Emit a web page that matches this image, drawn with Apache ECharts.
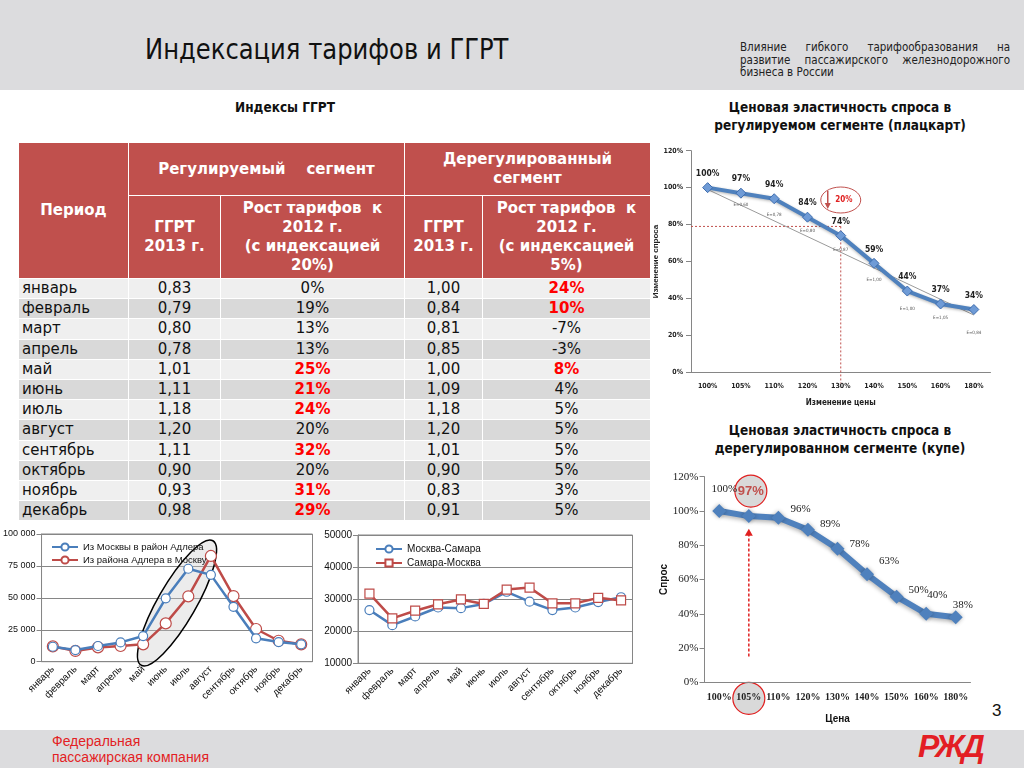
<!DOCTYPE html>
<html><head><meta charset="utf-8">
<script src="https://cdn.jsdelivr.net/npm/echarts@6/dist/echarts.min.js"></script>
<style>
body{margin:0;width:1024px;height:768px;position:relative;overflow:hidden;background:#fff;font-family:'DejaVu Sans',sans-serif;}
#topbar{position:absolute;left:0;top:0;width:1024px;height:90px;background:#dcdcde;}
#title{position:absolute;left:145px;top:32px;font:29px 'DejaVu Sans Condensed',sans-serif;color:#111;white-space:nowrap;transform-origin:0 0;transform:scaleX(0.93);}
#sub{position:absolute;left:740px;top:41px;width:270px;font:11.5px 'DejaVu Sans Condensed',sans-serif;text-align:justify;text-align-last:left;line-height:12.5px;color:#222;}
.hd{position:absolute;font:bold 13.5px 'DejaVu Sans Condensed','DejaVu Sans',sans-serif;color:#111;text-align:center;line-height:18px;}
#botbar{position:absolute;left:0;top:730px;width:1024px;height:38px;background:#dcdcde;}
#fpk{position:absolute;left:52px;top:733px;font:14px 'Liberation Sans',sans-serif;color:#e31e24;line-height:16px;}
#logo{position:absolute;left:918px;top:728px;font:italic bold 32px 'Liberation Sans',sans-serif;color:#e31e24;letter-spacing:-3px;}
#pg{position:absolute;left:992px;top:701px;font:17px 'Liberation Sans',sans-serif;color:#111;}
#tbl{position:absolute;left:18px;top:142px;width:632px;border-collapse:collapse;table-layout:fixed;}
#tbl th{background:#c0504d;color:#fff;border:1px solid #fff;font:bold 15px 'DejaVu Sans',sans-serif;line-height:19px;padding:0;text-align:center;}
#tbl td{border:1px solid #fff;font:15px 'DejaVu Sans',sans-serif;color:#111;padding:0;text-align:center;height:19.2px;line-height:19px;}
#tbl td.p{text-align:left;padding-left:3px;}
#tbl tr.l td{background:#efefef;}
#tbl tr.d td{background:#d9d9d9;}
#tbl td.hi{color:#f00;font-weight:bold;}
#chart{position:absolute;left:0;top:0;width:1024px;height:768px;}
</style></head>
<body>
<div id="topbar"></div>
<div id="title">Индексация тарифов и ГГРТ</div>
<div id="sub">Влияние гибкого тарифообразования на развитие пассажирского железнодорожного бизнеса в России</div>
<div class="hd" style="left:185px;top:98px;width:200px;">Индексы ГГРТ</div>
<div class="hd" style="left:680px;top:98px;width:320px;">Ценовая эластичность спроса в<br>регулируемом сегменте (плацкарт)</div>
<div class="hd" style="left:680px;top:421px;width:320px;">Ценовая эластичность спроса в<br>дерегулированном сегменте (купе)</div>
<table id="tbl">
<colgroup><col style="width:110px"><col style="width:92px"><col style="width:184px"><col style="width:78px"><col style="width:168px"></colgroup>
<thead>
<tr style="height:53px"><th rowspan="2">Период</th><th colspan="2">Регулируемый&nbsp;&nbsp;&nbsp; сегмент</th><th colspan="2">Дерегулированный<br>сегмент</th></tr>
<tr style="height:83px"><th>ГГРТ<br>2013 г.</th><th>Рост тарифов&nbsp; к<br>2012 г.<br>(с индексацией<br>20%)</th><th>ГГРТ<br>2013 г.</th><th>Рост тарифов&nbsp; к<br>2012 г.<br>(с индексацией<br>5%)</th></tr>
</thead><tbody id="tb"></tbody></table>
<div id="botbar"></div>
<div id="fpk">Федеральная<br>пассажирская компания</div>
<div id="logo">РЖД</div>
<div id="pg">3</div>
<div id="chart"></div>
<script>
// ---------- data ----------
const months = ['январь','февраль','март','апрель','май','июнь','июль','август','сентябрь','октябрь','ноябрь','декабрь'];
const ggrtReg = [0.83,0.79,0.80,0.78,1.01,1.11,1.18,1.20,1.11,0.90,0.93,0.98];
const growthReg = [0,19,13,13,25,21,24,20,32,20,31,29];
const hiReg = [0,0,0,0,1,1,1,0,1,0,1,1];
const ggrtDereg = [1.00,0.84,0.81,0.85,1.00,1.09,1.18,1.20,1.01,0.90,0.83,0.91];
const growthDereg = [24,10,-7,-3,8,4,5,5,5,5,3,5];
const hiDereg = [1,1,0,0,1,0,0,0,0,0,0,0];

const adlerFromMoscow = [11700,9100,12300,15100,20100,49600,72800,68000,43000,18300,15400,13600];
const adlerToMoscow = [12000,8400,11200,12300,13600,30000,51200,82800,51400,25600,16400,13600];
const samaraFromMoscow = [26600,21900,24600,27400,27200,28500,32300,29200,26600,27400,29100,30600];
const samaraToMoscow = [31700,24000,26400,28400,29900,28500,33000,33600,28700,28700,30400,29600];

const priceCatsReg = ['100%','105%','110%','120%','130%','140%','150%','160%','180%'];
const demandReg = [100,97,94,84,74,59,44,37,34];
const trendReg = [99,null,null,null,null,null,null,null,31];
const elastLabels = ['E=0,60','E=0,78','E=0,80','E=0,87','E=1,00','E=1,00','E=1,05','E=0,84'];
const elastPos = [[0.9,90.6],[1.95,85.4],[2.8,76.4],[3.9,66.4],[5.0,50],[5.9,34.3],[6.8,29.4],[7.9,21.6]];
const priceCatsDereg = ['100%','105%','110%','120%','130%','140%','150%','160%','180%'];
const demandDereg = [100,97,96,89,78,63,50,40,38];

// ---------- table ----------
const fmt = v => v.toFixed(2).replace('.', ',');
let html = '';
months.forEach((m,i)=>{
  html += '<tr class="'+(i%2?'d':'l')+'"><td class="p">'+m+'</td><td>'+fmt(ggrtReg[i])+'</td><td'+(hiReg[i]?' class="hi"':'')+'>'+growthReg[i]+'%</td><td>'+fmt(ggrtDereg[i])+'</td><td'+(hiDereg[i]?' class="hi"':'')+'>'+growthDereg[i]+'%</td></tr>';
});
document.getElementById('tb').innerHTML = html;

// ---------- charts ----------
const chart = echarts.init(document.getElementById('chart'), null, {renderer:'canvas'});
const G = [
  {left:39, top:534, width:273.5, height:127.7},
  {left:358, top:535, width:274.5, height:128.3},
  {left:691, top:150.7, width:299.5, height:221.6},
  {left:704.5, top:476.7, width:266, height:205.6}
];
const blue='#4a7ebb', red='#be4b48', axisGray='#868686';
const smallFont = "'Liberation Sans', sans-serif";
const narrow = "'Liberation Sans Narrow','DejaVu Sans Condensed',sans-serif";
const serif = "'Liberation Serif','DejaVu Serif',serif";
const thou = v => String(v).replace(/\B(?=(\d{3})+(?!\d))/g,' ');

const lbl4 = [
  {position:'top', offset:[5,-4]},
  {position:'top', offset:[2,-6], color:'#c0504d', fontWeight:'bold', fontSize:13, fontFamily:"'Liberation Sans',sans-serif"},
  {position:'right', offset:[0,-9]},
  {position:'right', offset:[0,-6]},
  {position:'right', offset:[0,-5]},
  {position:'right', offset:[0,-13]},
  {position:'right', offset:[0,-7]},
  {position:'right', offset:[-11,-19]},
  {position:'top', offset:[7,5]}
];

const option = {
  animation:false,
  grid: G.map((g,i)=>Object.assign({show:i<2, borderColor:axisGray, borderWidth:1, containLabel:false}, g)),
  legend:[
    {left:46, top:537, orient:'vertical', itemGap:3, itemWidth:26, itemHeight:9,
     textStyle:{fontSize:9.5, fontFamily:smallFont, color:'#111'}, data:['Из Москвы в район Адлера','Из района Адлера в Москву']},
    {left:370, top:539, orient:'vertical', itemGap:4, itemWidth:26, itemHeight:9,
     textStyle:{fontSize:10, fontFamily:smallFont, color:'#111'}, data:['Москва-Самара','Самара-Москва']}
  ],
  xAxis:[
    {gridIndex:0, type:'category', data:months, axisLine:{lineStyle:{color:axisGray}}, axisTick:{lineStyle:{color:axisGray}},
     axisLabel:{rotate:45, interval:0, fontSize:10, fontFamily:smallFont, color:'#111', margin:6}},
    {gridIndex:1, type:'category', data:months, axisLine:{lineStyle:{color:axisGray}}, axisTick:{lineStyle:{color:axisGray}},
     axisLabel:{rotate:45, interval:0, fontSize:10, fontFamily:smallFont, color:'#111', margin:6}},
    {gridIndex:2, type:'category', data:priceCatsReg, axisLine:{lineStyle:{color:axisGray}}, axisTick:{length:6, lineStyle:{color:axisGray}},
     axisLabel:{interval:0, fontSize:7, fontWeight:'bold', fontFamily:narrow, color:'#222', margin:10},
     name:'Изменение цены', nameLocation:'middle', nameGap:27, nameTextStyle:{fontSize:8, fontWeight:'bold', fontFamily:narrow, color:'#222'}},
    {gridIndex:3, type:'category', data:priceCatsDereg, z:5, axisLine:{lineStyle:{color:axisGray}}, axisTick:{lineStyle:{color:axisGray}},
     axisLabel:{interval:0, fontSize:10, fontWeight:'bold', fontFamily:serif, color:'#222', margin:10},
     name:'Цена', nameLocation:'middle', nameGap:32, nameTextStyle:{fontSize:10, fontWeight:'bold', fontFamily:smallFont, color:'#111'}}
  ],
  yAxis:[
    {gridIndex:0, type:'value', min:0, max:100000, interval:25000, axisLine:{show:true, lineStyle:{color:axisGray}}, axisTick:{show:true, lineStyle:{color:axisGray}},
     splitLine:{lineStyle:{color:axisGray}}, axisLabel:{formatter:thou, fontSize:9, fontFamily:smallFont, color:'#111', margin:6}},
    {gridIndex:1, type:'value', min:10000, max:50000, interval:10000, axisLine:{show:true, lineStyle:{color:axisGray}}, axisTick:{show:true, lineStyle:{color:axisGray}},
     splitLine:{lineStyle:{color:axisGray}}, axisLabel:{formatter:v=>String(v), fontSize:10, fontFamily:smallFont, color:'#111', margin:6}},
    {gridIndex:2, type:'value', min:0, max:120, interval:20, axisLine:{show:true, lineStyle:{color:axisGray}}, axisTick:{show:true, lineStyle:{color:axisGray}},
     splitLine:{show:false}, axisLabel:{formatter:'{value}%', fontSize:7, fontWeight:'bold', fontFamily:narrow, color:'#222', margin:8},
     name:'Изменение спроса', nameLocation:'middle', nameRotate:90, nameGap:26, nameTextStyle:{fontSize:8, fontWeight:'bold', fontFamily:smallFont, color:'#222'}},
    {gridIndex:3, type:'value', min:0, max:120, interval:20, axisLine:{show:true, lineStyle:{color:axisGray}}, axisTick:{show:true, lineStyle:{color:axisGray}},
     splitLine:{show:false}, axisLabel:{formatter:'{value}%', fontSize:11, fontFamily:serif, color:'#222', margin:6},
     name:'Спрос', nameLocation:'middle', nameRotate:90, nameGap:34, nameTextStyle:{fontSize:10, fontWeight:'bold', fontFamily:smallFont, color:'#111'}}
  ],
  series:[
    {name:'Из Москвы в район Адлера', type:'line', xAxisIndex:0, yAxisIndex:0, data:adlerFromMoscow, z:4,
     symbol:'circle', symbolSize:9, lineStyle:{width:2.5, color:blue}, itemStyle:{color:'#fff', borderColor:blue, borderWidth:1.2}},
    {name:'Из района Адлера в Москву', type:'line', xAxisIndex:0, yAxisIndex:0, data:adlerToMoscow, z:3,
     symbol:'circle', symbolSize:11, lineStyle:{width:2.5, color:red}, itemStyle:{color:'#fff', borderColor:red, borderWidth:1.2}},
    {name:'Москва-Самара', type:'line', xAxisIndex:1, yAxisIndex:1, data:samaraFromMoscow, z:3,
     symbol:'circle', symbolSize:9, lineStyle:{width:2.5, color:blue}, itemStyle:{color:'#fff', borderColor:blue, borderWidth:1.2}},
    {name:'Самара-Москва', type:'line', xAxisIndex:1, yAxisIndex:1, data:samaraToMoscow, z:4,
     symbol:'rect', symbolSize:9, lineStyle:{width:2.5, color:red}, itemStyle:{color:'#fff', borderColor:red, borderWidth:1.2}},
    {name:'trend', type:'line', xAxisIndex:2, yAxisIndex:2, data:trendReg, connectNulls:true, symbol:'none', z:2,
     lineStyle:{width:1, color:'#9a9a9a'}},
    {name:'reg', type:'line', xAxisIndex:2, yAxisIndex:2, data:demandReg, z:4,
     symbol:'diamond', symbolSize:10, lineStyle:{width:4, color:'#4f81bd', shadowColor:'rgba(0,0,0,0.3)', shadowBlur:3, shadowOffsetY:1},
     itemStyle:{color:'#6f9bd6', borderColor:'#3d6cae', borderWidth:1},
     label:{show:true, position:'top', distance:4, formatter:'{c}%', fontSize:8.5, fontWeight:'bold', fontFamily:narrow, color:'#222'}},
    {name:'dereg', type:'line', xAxisIndex:3, yAxisIndex:3, z:4,
     data:demandDereg.map((v,i)=>({value:v, label:lbl4[i]})),
     symbol:'diamond', symbolSize:14, lineStyle:{width:6, color:'#4f81bd', shadowColor:'rgba(0,0,0,0.3)', shadowBlur:4, shadowOffsetY:2},
     itemStyle:{color:'#4f81bd', shadowColor:'rgba(0,0,0,0.3)', shadowBlur:4},
     label:{show:true, formatter:'{c}%', fontSize:11, fontFamily:serif, color:'#222'}}
  ]
};
chart.setOption(option);

// ---------- annotations positioned through the axes ----------
const P = (gi, x, y) => chart.convertToPixel({gridIndex:gi}, [x, y]);
const gfx = [];
{
  const a = P(0, 4, 0), b = P(0, 7.2, 92000);
  const cx=(a[0]+b[0])/2, cy=(a[1]+b[1])/2;
  const ang = Math.atan2(a[1]-b[1], b[0]-a[0]);
  const len = Math.hypot(b[0]-a[0], b[1]-a[1]);
  gfx.push({type:'ellipse', x:cx, y:cy, rotation:ang, z:1, shape:{cx:0, cy:0, rx:len/2+4, ry:19},
    style:{fill:'rgba(200,200,200,0.35)', stroke:'#000', lineWidth:1.5}});
}
{
  const p = P(2, 3.5, 79), o = P(2, 3.5, 0);
  gfx.push({type:'line', z:1, shape:{x1:G[2].left, y1:p[1], x2:p[0], y2:p[1]}, style:{stroke:'#c0504d', lineWidth:1, lineDash:[2,2]}});
  gfx.push({type:'line', z:1, shape:{x1:p[0], y1:p[1], x2:p[0], y2:o[1]+11}, style:{stroke:'#c0504d', lineWidth:1, lineDash:[2,2]}});
  const c = P(2, 3.82, 93.3);
  gfx.push({type:'ellipse', z:1, shape:{cx:c[0], cy:c[1], rx:20, ry:13}, style:{fill:'#fff', stroke:'#c0504d', lineWidth:1}});
  gfx.push({type:'line', z:6, shape:{x1:c[0]-13, y1:c[1]-9, x2:c[0]-13, y2:c[1]+6}, style:{stroke:'#c0504d', lineWidth:1.5}});
  gfx.push({type:'polygon', z:6, shape:{points:[[c[0]-16,c[1]+3],[c[0]-10,c[1]+3],[c[0]-13,c[1]+9]]}, style:{fill:'#c0504d'}});
  gfx.push({type:'text', z:6, x:c[0]+3, y:c[1], style:{text:'20%', fill:'#e02020', font:"bold 8px "+narrow, verticalAlign:'middle', align:'center'}});
  elastLabels.forEach((t,i)=>{
    const q = P(2, elastPos[i][0], elastPos[i][1]);
    gfx.push({type:'text', z:6, x:q[0], y:q[1], style:{text:t, fill:'#555', font:"4.5px "+narrow, align:'center', verticalAlign:'middle'}});
  });
}
{
  const pt = P(3, 1, 97), ax = P(3, 1, 0);
  gfx.push({type:'circle', z:1, shape:{cx:pt[0]+2, cy:pt[1]-25, r:16}, style:{fill:'#d9d9d9', stroke:'#e02020', lineWidth:1.2}});
  gfx.push({type:'circle', z:1, shape:{cx:pt[0], cy:ax[1]+16, r:16}, style:{fill:'#d9d9d9', stroke:'#e02020', lineWidth:1.2}});
  const top = P(3, 1, 89), bot = P(3, 1, 15);
  gfx.push({type:'line', z:6, shape:{x1:pt[0], y1:bot[1], x2:pt[0], y2:top[1]+4}, style:{stroke:'#e02020', lineWidth:1.5, lineDash:[3,2]}});
  gfx.push({type:'polygon', z:6, shape:{points:[[pt[0]-4,top[1]+6],[pt[0]+4,top[1]+6],[pt[0],top[1]-1]]}, style:{fill:'#e02020'}});
}
chart.setOption({graphic:gfx});
</script>
</body></html>
